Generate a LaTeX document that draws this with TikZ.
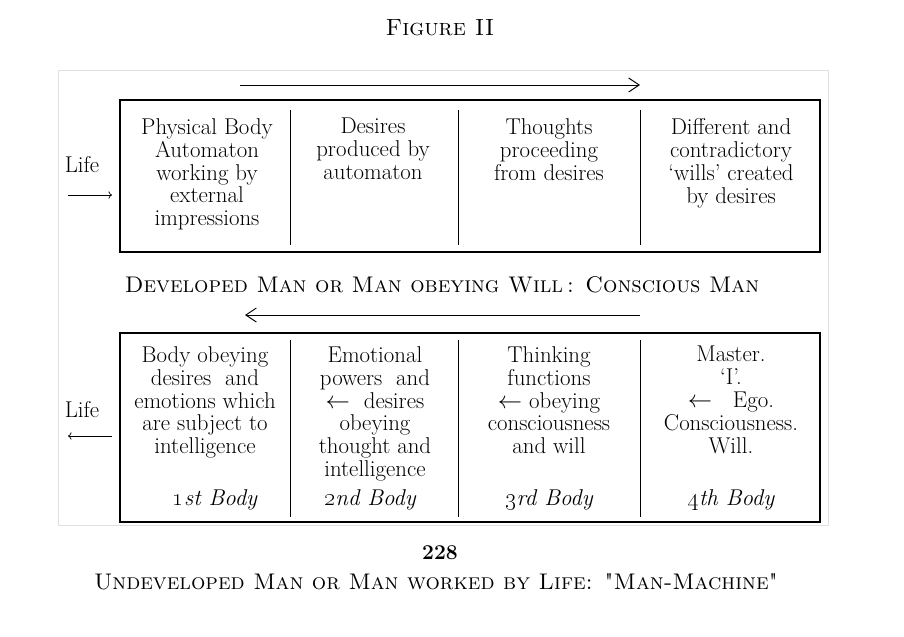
\documentclass[tikz,border=0pt]{standalone}
\usepackage{tikz}
\usetikzlibrary{arrows.meta}

\begin{document}
\begin{tikzpicture}[x=0.03cm,y=-0.03cm]
			\tikzset{cell/.style={align=center, anchor=north, inner sep=0pt, font=\fontsize{19.5}{19.6}\selectfont},
				caption/.style={font=\fontsize{19.3}{21}\selectfont\scshape},
				flow/.style={-{Straight Barb[length=9pt,width=12pt]}, line width=0.8pt},
				small/.style={-{To[length=3pt]}, line width=0.6pt}}
			
			\useasboundingbox (0,0) rectangle (904,636);
			\draw[black!12] (58,70) rectangle (828,525);
			\node[caption, font=\fontsize{20}{21}\selectfont\scshape] (title) at (440,28) {Figure II};
			
			% upper table
			\coordinate (ta) at (240,85);
			\coordinate (tb) at (640,85);
			\draw[flow] (ta) -- (tb);
			\draw[line width=0.9pt] (120,100) rectangle (820,252);
			\foreach \x in {290,458,640} \draw[line width=0.7pt] (\x,110) -- (\x,245);
			\node[cell] (u_1) at (207,118) {Physical Body\\Automaton\\working by\\external\\impressions};
			\node[cell] (u_2) at (373,118) {Desires\\produced by\\automaton};
			\node[cell] (u_3) at (549,118) {Thoughts\\proceeding\\from desires};
			\node[cell] (u_4) at (731,118) {Different and\\contradictory\\`wills' created\\by desires};
			\node[cell, anchor=center] (life_u) at (82,165) {Life};
			\coordinate (la) at (68,195);
			\coordinate (lb) at (112,195);
			\draw[small] (la) -- (lb);
			
			\node[caption] (dev) at (442,285) {Developed Man or Man obeying Will\,: Conscious Man};
			
			% lower table
			\coordinate (ba) at (640,315);
			\coordinate (bb) at (245,315);
			\draw[flow] (ba) -- (bb);
			\draw[line width=0.9pt] (120,333) rectangle (820,522);
			\foreach \x in {290,458,640} \draw[line width=0.7pt] (\x,340) -- (\x,517);
			\node[cell] (d_1) at (205,346) {Body obeying\\desires\ \ and\\emotions which\\are subject to\\intelligence};
			\node[cell] (d_2) at (375,346) {Emotional\\powers\ \ and\\$\leftarrow$\ \ desires\\obeying\\thought and\\intelligence};
			\node[cell] (d_3) at (549,346) {Thinking\\functions\\$\leftarrow$ obeying\\consciousness\\and will};
			\node[cell] (d_4) at (731,346) {Master.\\`I'.\\$\leftarrow$\ \ \ Ego.\\Consciousness.\\Will.};
			\node[cell, anchor=center] (b_1) at (215,500) {\itshape \oldstylenums{1}st Body};
			\node[cell, anchor=center] (b_2) at (370,500) {\itshape \oldstylenums{2}nd Body};
			\node[cell, anchor=center] (b_3) at (549,500) {\itshape \oldstylenums{3}rd Body};
			\node[cell, anchor=center] (b_4) at (731,500) {\itshape \oldstylenums{4}th Body};
			\node[cell, anchor=center] (life_d) at (82,410) {Life};
			\coordinate (lc) at (112,436);
			\coordinate (ld) at (68,436);
			\draw[small] (lc) -- (ld);
			
			\node[cell, anchor=center, font=\fontsize{18}{19}\selectfont\bfseries] (page) at (440,553) {228};
			\node[caption] (undev) at (436,582) {Undeveloped Man or Man worked by Life: \textquotedbl Man-Machine\textquotedbl};
			
		\end{tikzpicture}
\end{document}
